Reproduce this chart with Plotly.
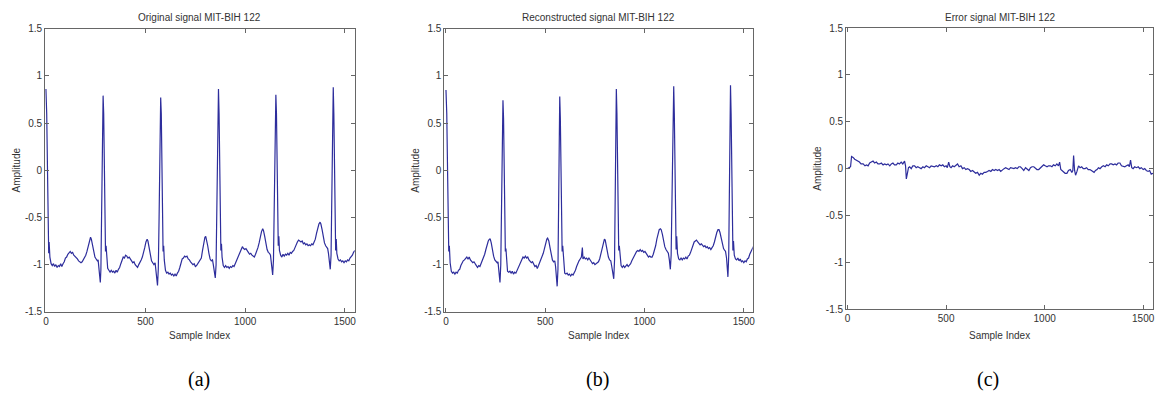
import plotly.graph_objects as go

# ---------------- data: (sample index, amplitude) ----------------
orig_pts = [
    (0, 0.86), (4, 0.60), (8, 0.0), (12, -0.78), (14, -0.88), (16, -0.76), (20, -0.92),
    (26, -0.99), (32, -1.01), (38, -0.99), (44, -1.02), (50, -1.00), (56, -1.03), (62, -1.01),
    (68, -1.02), (74, -0.99), (80, -1.02), (86, -0.99), (92, -0.97), (98, -0.93), (104, -0.92),
    (110, -0.89), (116, -0.88), (122, -0.86), (128, -0.88), (134, -0.87), (140, -0.90),
    (146, -0.91), (152, -0.93), (158, -0.94), (164, -0.96), (170, -0.97), (176, -0.98),
    (182, -0.97), (188, -0.95), (194, -0.93), (200, -0.90), (206, -0.86), (212, -0.80),
    (218, -0.74), (224, -0.71), (228, -0.73), (234, -0.80), (240, -0.88), (246, -0.92),
    (252, -0.94), (258, -0.96), (262, -0.95), (266, -1.02), (270, -1.12), (273, -1.19),
    (276, -1.05), (279, -0.5), (283, 0.3), (287, 0.79), (290, 0.6), (293, 0.0), (296, -0.6),
    (299, -0.86), (302, -0.80), (305, -0.95), (310, -1.04), (316, -1.06), (322, -1.08),
    (328, -1.06), (334, -1.08), (340, -1.07), (346, -1.09), (352, -1.06), (358, -1.08),
    (364, -1.05), (370, -1.03), (376, -0.99), (382, -0.95), (388, -0.92), (394, -0.93),
    (400, -0.90), (406, -0.91), (412, -0.93), (418, -0.92), (424, -0.95), (430, -0.96),
    (436, -0.98), (442, -0.97), (448, -1.00), (454, -1.01), (460, -1.03), (466, -1.00),
    (472, -0.98), (478, -0.95), (484, -0.92), (490, -0.88), (496, -0.82), (502, -0.76),
    (508, -0.73), (512, -0.75), (518, -0.82), (524, -0.90), (530, -0.96), (536, -0.98),
    (542, -1.00), (548, -0.98), (552, -1.04), (556, -1.14), (560, -1.22), (564, -1.05),
    (568, -0.5), (572, 0.3), (576, 0.77), (579, 0.6), (582, 0.0), (585, -0.6), (588, -0.86),
    (591, -0.80), (594, -0.95), (600, -1.06), (606, -1.09), (612, -1.08), (618, -1.10),
    (624, -1.09), (630, -1.11), (636, -1.10), (642, -1.12), (648, -1.10), (654, -1.12),
    (660, -1.09), (666, -1.07), (672, -1.03), (678, -0.98), (684, -0.94), (690, -0.93),
    (696, -0.91), (702, -0.92), (708, -0.91), (714, -0.94), (720, -0.95), (726, -0.97),
    (732, -0.98), (738, -1.00), (744, -0.99), (750, -1.02), (756, -1.01), (762, -0.99),
    (768, -0.98), (774, -0.96), (780, -0.93), (786, -0.85), (792, -0.77), (798, -0.71),
    (802, -0.70), (806, -0.73), (812, -0.80), (818, -0.88), (824, -0.94), (830, -0.96),
    (836, -0.95), (840, -1.00), (845, -1.08), (850, -1.14), (854, -1.0), (858, -0.4),
    (862, 0.4), (866, 0.86), (869, 0.6), (872, 0.0), (875, -0.6), (878, -0.85), (881, -0.78),
    (884, -0.92), (890, -1.01), (896, -1.03), (902, -1.01), (908, -1.03), (914, -1.02),
    (920, -1.04), (926, -1.02), (932, -1.03), (938, -1.01), (944, -1.02), (950, -0.99),
    (956, -0.96), (962, -0.91), (968, -0.88), (974, -0.86), (980, -0.84), (986, -0.81),
    (992, -0.83), (998, -0.84), (1004, -0.83), (1010, -0.86), (1016, -0.87), (1022, -0.89),
    (1028, -0.88), (1034, -0.90), (1040, -0.91), (1046, -0.92), (1052, -0.89), (1058, -0.86),
    (1064, -0.82), (1070, -0.77), (1076, -0.70), (1082, -0.65), (1088, -0.62), (1092, -0.64),
    (1098, -0.70), (1104, -0.78), (1110, -0.84), (1116, -0.87), (1122, -0.88), (1127, -0.90),
    (1132, -1.00), (1138, -1.11), (1142, -0.95), (1146, -0.4), (1150, 0.4), (1154, 0.80),
    (1157, 0.6), (1160, 0.0), (1163, -0.6), (1166, -0.80), (1169, -0.70), (1172, -0.85),
    (1178, -0.90), (1184, -0.92), (1190, -0.89), (1196, -0.91), (1202, -0.89), (1208, -0.90),
    (1214, -0.88), (1220, -0.90), (1226, -0.87), (1232, -0.88), (1238, -0.86), (1244, -0.85),
    (1250, -0.82), (1256, -0.78), (1262, -0.76), (1268, -0.74), (1274, -0.75), (1280, -0.76),
    (1286, -0.75), (1292, -0.78), (1298, -0.77), (1304, -0.79), (1310, -0.78), (1316, -0.80),
    (1322, -0.79), (1328, -0.80), (1334, -0.78), (1340, -0.79), (1346, -0.76), (1352, -0.73),
    (1358, -0.67), (1364, -0.61), (1370, -0.57), (1376, -0.55), (1380, -0.57), (1386, -0.63),
    (1392, -0.71), (1398, -0.77), (1404, -0.80), (1410, -0.82), (1414, -0.83), (1418, -0.88),
    (1423, -0.97), (1427, -1.05), (1431, -0.90), (1434, -0.3), (1438, 0.5), (1442, 0.88),
    (1445, 0.6), (1448, 0.0), (1451, -0.6), (1454, -0.85), (1457, -0.73), (1460, -0.88),
    (1466, -0.94), (1472, -0.96), (1478, -0.95), (1484, -0.97), (1490, -0.96), (1496, -0.98),
    (1502, -0.96), (1508, -0.97), (1514, -0.95), (1520, -0.96), (1526, -0.93), (1532, -0.92),
    (1538, -0.90), (1544, -0.87), (1550, -0.85),
]

recon_pts = [
    (0, 0.85), (4, 0.60), (8, 0.0), (12, -0.75), (14, -0.86), (17, -0.80), (21, -0.98),
    (27, -1.07), (33, -1.09), (39, -1.08), (45, -1.10), (51, -1.08), (57, -1.09), (63, -1.06),
    (69, -1.05), (75, -1.01), (81, -0.98), (87, -0.96), (93, -0.95), (99, -0.93), (105, -0.92),
    (111, -0.94), (117, -0.92), (123, -0.95), (129, -0.96), (135, -0.98), (141, -0.97),
    (147, -1.00), (153, -1.01), (159, -1.03), (165, -1.01), (171, -1.02), (177, -0.99),
    (183, -0.97), (189, -0.93), (195, -0.89), (201, -0.84), (207, -0.79), (213, -0.75),
    (219, -0.73), (223, -0.73), (228, -0.77), (234, -0.85), (240, -0.91), (246, -0.95),
    (252, -0.96), (258, -0.98), (262, -0.97), (267, -1.08), (272, -1.19), (276, -1.0),
    (279, -0.5), (283, 0.3), (287, 0.74), (290, 0.55), (293, 0.0), (296, -0.6), (299, -0.86),
    (302, -0.83), (305, -0.97), (310, -1.07), (316, -1.08), (322, -1.07), (328, -1.09),
    (334, -1.07), (340, -1.10), (346, -1.08), (352, -1.09), (358, -1.06), (364, -1.04),
    (370, -1.00), (376, -0.97), (382, -0.94), (388, -0.92), (394, -0.93), (400, -0.91),
    (406, -0.93), (412, -0.92), (418, -0.95), (424, -0.97), (430, -0.98), (436, -0.97),
    (442, -1.00), (448, -1.02), (454, -1.01), (460, -1.04), (466, -1.01), (472, -0.98),
    (478, -0.95), (484, -0.92), (490, -0.88), (496, -0.83), (502, -0.77), (508, -0.73),
    (512, -0.72), (518, -0.75), (524, -0.82), (530, -0.90), (536, -0.95), (542, -0.97),
    (548, -0.96), (552, -1.02), (556, -1.12), (560, -1.23), (564, -1.05), (567, -0.5),
    (570, 0.3), (573, 0.78), (576, 0.55), (579, 0.0), (582, -0.6), (585, -0.86), (588, -0.80),
    (592, -0.97), (598, -1.09), (604, -1.10), (610, -1.09), (616, -1.11), (622, -1.10),
    (628, -1.12), (634, -1.10), (640, -1.11), (646, -1.09), (652, -1.06), (658, -1.02),
    (664, -0.98), (670, -0.96), (676, -0.94), (682, -0.92), (687, -0.82), (690, -0.94),
    (696, -0.92), (702, -0.94), (708, -0.93), (714, -0.95), (720, -0.93), (726, -0.96),
    (732, -0.97), (738, -0.99), (744, -0.98), (750, -1.00), (756, -0.99), (762, -0.99),
    (768, -0.97), (774, -0.94), (780, -0.89), (786, -0.82), (792, -0.76), (798, -0.73),
    (802, -0.74), (806, -0.79), (812, -0.86), (818, -0.92), (824, -0.95), (830, -0.96),
    (835, -1.02), (840, -1.09), (845, -1.15), (849, -0.95), (852, -0.4), (855, 0.4),
    (858, 0.86), (861, 0.6), (864, 0.0), (867, -0.6), (870, -0.85), (873, -0.80),
    (877, -0.95), (882, -1.01), (888, -1.03), (894, -1.01), (900, -1.03), (906, -1.02),
    (912, -1.00), (918, -1.02), (924, -1.01), (930, -0.99), (936, -0.96), (942, -0.93),
    (948, -0.90), (954, -0.87), (960, -0.86), (966, -0.85), (972, -0.86), (978, -0.84),
    (984, -0.86), (990, -0.85), (996, -0.87), (1002, -0.86), (1008, -0.89), (1014, -0.90),
    (1020, -0.92), (1026, -0.91), (1032, -0.92), (1038, -0.92), (1044, -0.89), (1050, -0.85),
    (1056, -0.80), (1062, -0.73), (1068, -0.67), (1074, -0.63), (1080, -0.62), (1084, -0.63),
    (1090, -0.68), (1096, -0.75), (1102, -0.81), (1108, -0.84), (1114, -0.86), (1120, -0.88),
    (1125, -0.95), (1130, -1.05), (1134, -0.9), (1138, -0.3), (1143, 0.5), (1147, 0.89),
    (1150, 0.6), (1153, 0.0), (1156, -0.6), (1159, -0.84), (1162, -0.70), (1166, -0.88),
    (1172, -0.94), (1178, -0.95), (1184, -0.93), (1190, -0.95), (1196, -0.93), (1202, -0.94),
    (1208, -0.92), (1214, -0.94), (1220, -0.91), (1226, -0.90), (1232, -0.87), (1238, -0.83),
    (1244, -0.79), (1250, -0.76), (1256, -0.75), (1262, -0.74), (1268, -0.76), (1274, -0.77),
    (1280, -0.79), (1286, -0.78), (1292, -0.80), (1298, -0.81), (1304, -0.80), (1310, -0.82),
    (1316, -0.81), (1322, -0.83), (1328, -0.82), (1334, -0.84), (1340, -0.82), (1346, -0.80),
    (1352, -0.76), (1358, -0.70), (1364, -0.66), (1370, -0.63), (1375, -0.63), (1380, -0.66),
    (1386, -0.73), (1392, -0.79), (1398, -0.83), (1404, -0.85), (1408, -0.86), (1413, -0.93),
    (1417, -1.03), (1420, -1.13), (1424, -0.9), (1427, -0.3), (1430, 0.5), (1433, 0.90),
    (1436, 0.6), (1439, 0.0), (1442, -0.6), (1445, -0.85), (1448, -0.75), (1452, -0.90),
    (1458, -0.94), (1464, -0.95), (1470, -0.93), (1476, -0.96), (1482, -0.94), (1488, -0.97),
    (1494, -0.96), (1500, -0.98), (1506, -0.96), (1512, -0.97), (1518, -0.94), (1524, -0.93),
    (1530, -0.89), (1536, -0.86), (1542, -0.83), (1550, -0.80),
]

err_pts = [
    (0, 0.0), (8, 0.01), (15, 0.02), (20, 0.13), (28, 0.12), (36, 0.10), (45, 0.09),
    (52, 0.08), (60, 0.07), (68, 0.05), (79, 0.05), (88, 0.03), (96, 0.04), (104, 0.03),
    (112, 0.06), (120, 0.07), (129, 0.08), (137, 0.06), (146, 0.07), (154, 0.05), (163, 0.05),
    (171, 0.06), (180, 0.04), (188, 0.05), (197, 0.04), (205, 0.05), (214, 0.03), (222, 0.05),
    (230, 0.06), (238, 0.04), (247, 0.04), (255, 0.06), (263, 0.05), (272, 0.07), (280, 0.05),
    (289, 0.08), (294, 0.03), (298, -0.11), (303, -0.05), (309, 0.01), (315, 0.02),
    (323, 0.00), (331, 0.03), (340, 0.03), (348, 0.01), (356, 0.02), (365, 0.01), (373, 0.00),
    (382, 0.02), (390, 0.01), (399, 0.03), (407, 0.02), (416, 0.01), (424, 0.03), (433, 0.02),
    (441, 0.02), (450, 0.03), (458, 0.02), (466, 0.04), (475, 0.03), (483, 0.04), (491, 0.02),
    (500, 0.03), (506, 0.01), (513, 0.07), (519, 0.02), (525, 0.01), (533, 0.03), (541, 0.02),
    (550, 0.04), (558, 0.05), (566, 0.02), (575, 0.03), (583, 0.00), (592, 0.01),
    (600, -0.01), (608, 0.00), (617, -0.01), (625, -0.03), (634, -0.02), (642, -0.04),
    (650, -0.05), (659, -0.04), (668, -0.07), (676, -0.05), (684, -0.06), (693, -0.04),
    (701, -0.04), (710, -0.03), (718, -0.02), (727, -0.03), (735, -0.01), (744, -0.02),
    (752, -0.01), (761, -0.02), (769, -0.01), (777, -0.03), (786, -0.01), (794, 0.00),
    (802, 0.01), (811, 0.00), (819, -0.01), (827, 0.01), (836, 0.00), (844, 0.00), (852, 0.01),
    (861, 0.00), (869, 0.02), (877, 0.02), (886, 0.00), (894, -0.02), (903, 0.01),
    (911, -0.01), (920, -0.02), (928, 0.01), (936, 0.02), (945, 0.02), (953, 0.00),
    (961, -0.01), (970, -0.01), (978, 0.01), (986, 0.02), (995, 0.04), (1003, 0.03),
    (1012, 0.02), (1020, 0.03), (1029, 0.03), (1037, 0.02), (1045, 0.04), (1054, 0.03),
    (1062, 0.05), (1070, 0.03), (1076, 0.07), (1082, -0.01), (1088, -0.02), (1096, -0.03),
    (1104, -0.05), (1113, -0.05), (1121, -0.02), (1130, -0.01), (1138, -0.04), (1143, -0.02),
    (1147, 0.14), (1152, -0.02), (1157, -0.07), (1164, -0.03), (1172, 0.03), (1180, 0.01),
    (1188, 0.02), (1196, 0.00), (1205, 0.00), (1213, 0.01), (1221, -0.01), (1230, -0.01),
    (1238, -0.02), (1245, -0.03), (1251, -0.04), (1258, -0.02), (1266, -0.01), (1273, 0.01),
    (1281, 0.00), (1290, 0.02), (1298, 0.03), (1307, 0.02), (1315, 0.04), (1323, 0.03),
    (1332, 0.05), (1340, 0.05), (1348, 0.04), (1357, 0.05), (1365, 0.04), (1373, 0.06),
    (1382, 0.06), (1390, 0.03), (1399, 0.02), (1407, 0.02), (1415, 0.03), (1424, 0.04),
    (1430, 0.02), (1436, 0.09), (1442, 0.01), (1449, 0.00), (1457, 0.02), (1466, 0.01),
    (1475, 0.02), (1483, 0.00), (1491, 0.01), (1500, -0.01), (1508, 0.00), (1516, -0.02),
    (1525, -0.03), (1533, -0.02), (1541, -0.06), (1550, -0.05),
]

titles = ["Original signal MIT-BIH 122", "Reconstructed signal MIT-BIH 122",
          "Error signal MIT-BIH 122"]
panel_labels = ["(a)", "(b)", "(c)"]
x_tick_vals = [0, 500, 1000, 1500]
x_tick_text = ["0", "500", "1000", "1500"]
y_tick_vals = [-1.5, -1, -0.5, 0, 0.5, 1, 1.5]
y_tick_text = ["-1.5", "-1", "-0.5", "0", "0.5", "1", "1.5"]

# ---------------- figure ----------------
W, H = 1158, 412
LINE = "#2d2d9c"
AXC = "#666666"
TXT = "#333333"
FONT = "Liberation Sans Narrow, Arial Narrow, Liberation Sans, Arial, sans-serif"
FS = 10

series = [orig_pts, recon_pts, err_pts]
# plot boxes in pixels: left, right, top, bottom
boxes = [(43.3, 354.3, 23.3, 315.0), (444.3, 754.0, 23.3, 315.0), (847.7, 1156.0, 22.7, 312.3)]
xranges = [[-4, 1550], [-8, 1545], [-8, 1550]]

fig = go.Figure()
annotations = []
for i, (pts, (l, r, t, b)) in enumerate(zip(series, boxes)):
    ax = "" if i == 0 else str(i + 1)
    xs = [p[0] for p in pts]
    ys = [p[1] for p in pts]
    fig.add_trace(go.Scatter(x=xs, y=ys, mode="lines", line=dict(color=LINE, width=1.2),
                             xaxis="x" + ax, yaxis="y" + ax, showlegend=False,
                             hoverinfo="skip"))
    common = dict(showline=True, mirror="ticks", linecolor=AXC, linewidth=1,
                  ticks="inside", ticklen=4, tickcolor=AXC, showgrid=False,
                  zeroline=False, tickfont=dict(family=FONT, size=FS, color=TXT))
    fig.update_layout(**{
        "xaxis" + ax: dict(domain=[l / W, r / W], range=xranges[i], anchor="y" + ax,
                           tickvals=x_tick_vals, ticktext=x_tick_text, **common),
        "yaxis" + ax: dict(domain=[1 - b / H, 1 - t / H], range=[-1.5, 1.5],
                           anchor="x" + ax, tickvals=y_tick_vals, ticktext=y_tick_text,
                           **common),
    })
    cx = (l + r) / 2 / W
    annotations.append(dict(text=titles[i], x=cx, y=1 - 12 / H, xref="paper", yref="paper",
                            showarrow=False, xanchor="center", yanchor="middle",
                            font=dict(family=FONT, size=FS, color=TXT)))
    annotations.append(dict(text="Sample Index", x=cx, y=1 - 339 / H, xref="paper",
                            yref="paper", showarrow=False, xanchor="center",
                            yanchor="middle", font=dict(family=FONT, size=FS, color=TXT)))
    annotations.append(dict(text="Amplitude", x=(l - 29) / W, y=1 - (t + b) / 2 / H,
                            xref="paper", yref="paper", showarrow=False, textangle=-90,
                            xanchor="center", yanchor="middle",
                            font=dict(family=FONT, size=FS, color=TXT)))
label_x = [198, 598, 990]
for lx, lab in zip(label_x, panel_labels):
    annotations.append(dict(text=lab, x=lx / W, y=1 - 385 / H, xref="paper", yref="paper",
                            showarrow=False, xanchor="center", yanchor="middle",
                            font=dict(family="Liberation Serif, Times New Roman, serif",
                                      size=20, color="#000")))

fig.update_layout(width=W, height=H, margin=dict(l=0, r=0, t=0, b=0),
                  paper_bgcolor="white", plot_bgcolor="white", annotations=annotations,
                  hovermode=False, dragmode=False)

fig.write_html("out.html", config={"displayModeBar": False, "staticPlot": True},
               post_script="document.body.style.margin='0';"
                           "document.body.style.overflow='hidden';")
